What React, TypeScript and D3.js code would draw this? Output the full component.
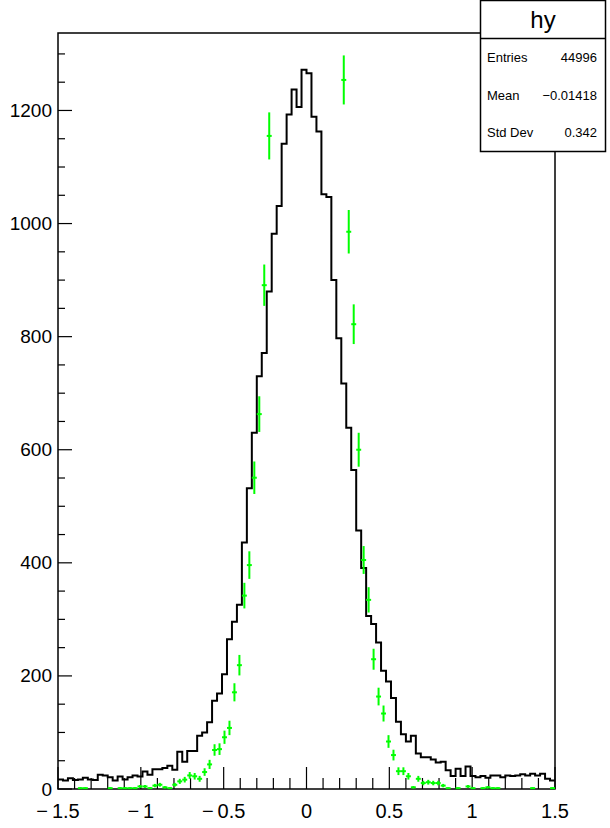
import React from "react";
import * as d3 from "d3";

// ---- data ----
const xMin = -1.5;
const xMax = 1.5;
const nBins = 100;
const yMaxAxis = 1337;

// black histogram "hy" bin contents (100 bins, -1.5..1.5)
const hyCounts = [
  17, 15, 19, 16, 17, 20, 17, 16, 25, 24,
  21, 15, 22, 17, 21, 24, 22, 31, 25, 35,
  35, 37, 41, 34, 66, 48, 67, 67, 94, 100,
  118, 156, 169, 203, 265, 296, 326, 436, 532, 630,
  730, 771, 880, 982, 1031, 1141, 1193, 1237, 1206, 1272,
  1266, 1189, 1163, 1052, 1047, 900, 797, 717, 639, 564,
  457, 391, 306, 292, 259, 209, 190, 161, 119, 97,
  84, 94, 63, 56, 56, 52, 47, 48, 33, 23,
  36, 23, 40, 23, 21, 23, 20, 24, 24, 21,
  24, 23, 24, 26, 24, 27, 24, 27, 18, 15,
];

// green histogram (drawn with error bars); null = off the top of the frame, 0 = empty
const greenCounts: (number | null)[] = [
  0, 0, 0, 0, 1.5, 1.5, 0, 0, 0, 0,
  1.5, 0, 1.5, 1.5, 1.5, 1.5, 4.5, 4.5, 1.5, 6,
  7.5, 3, 1.5, 7.5, 13.5, 16.5, 24, 22.5, 18, 30,
  43.5, 69, 70.5, 91.5, 108, 171, 219, 342, 396, 550.5,
  663, 891, 1155, null, null, null, null, null, null, null,
  null, null, null, null, null, null, null, 1254, 985.5, 822,
  600, 405, 334.5, 229.5, 163.5, 133.5, 84, 60, 31.5, 31.5,
  22.5, 3, 18, 10.5, 12, 10.5, 10.5, 6, 1.5, 0,
  1.5, 0, 4.5, 1.5, 0, 1.5, 3, 1.5, 1.5, 0,
  0, 0, 0, 0, 0, 1.5, 0, 0, 0, 1.5,
];
const greenWeight = 1.5;

const yTicks = [0, 200, 400, 600, 800, 1000, 1200];
const xTicks = [-1.5, -1, -0.5, 0, 0.5, 1, 1.5];

const statsTitle = "hy";
const statsLabels = ["Entries", "Mean", "Std Dev"];
const statsValues = ["44996", "\u22120.01418", "0.342"];

// ---- layout ----
const W = 610;
const H = 828;
const left = 58;
const right = 555;
const top = 33;
const bottom = 789;
const font = "'Liberation Sans', Arial, Helvetica, sans-serif";

const fmtX = (v: number) => (v < 0 ? "\u2212\u2009" + String(-v) : String(v));

export default function App() {
  const x = d3.scaleLinear().domain([xMin, xMax]).range([left, right]);
  const y = d3.scaleLinear().domain([0, yMaxAxis]).range([bottom, top]);
  const bw = (xMax - xMin) / nBins;
  const edge = (i: number) => x(xMin + i * bw);

  // histogram outline path
  let d = `M${edge(0)},${y(hyCounts[0])}`;
  hyCounts.forEach((v, i) => {
    if (i > 0) d += `V${y(v)}`;
    d += `H${edge(i + 1)}`;
  });

  const minorY = d3.range(0, yMaxAxis + 1, 50);
  const minorX = d3.range(-15, 16).map((k) => k / 10);

  return (
    <svg
      width={W}
      height={H}
      style={{ position: "absolute", left: 0, top: 0, background: "#fff" }}
      fontFamily={font}
    >
      <rect x={0} y={0} width={W} height={H} fill="#fff" />
      {/* frame */}
      <rect x={left} y={top} width={right - left} height={bottom - top} fill="none" stroke="#000" strokeWidth={1.5} />

      {/* y ticks */}
      {minorY.map((v) => (
        <line key={"my" + v} x1={left} x2={left + (v % 200 === 0 ? 14 : 7)} y1={y(v)} y2={y(v)} stroke="#000" strokeWidth={1.2} />
      ))}
      {yTicks.map((v) => (
        <text key={"yl" + v} x={52} y={y(v)} fontSize={19} textAnchor="end" dominantBaseline="central">
          {v}
        </text>
      ))}

      {/* x ticks */}
      {minorX.map((v) => {
        const major = Math.abs(Math.round(v * 10) % 5) === 0;
        return (
          <line key={"mx" + v} x1={x(v)} x2={x(v)} y1={bottom} y2={bottom - (major ? 22 : 11)} stroke="#000" strokeWidth={1.2} />
        );
      })}
      {xTicks.map((v) => (
        <text key={"xl" + v} x={x(v)} y={818} fontSize={20} textAnchor="middle">
          {fmtX(v)}
        </text>
      ))}

      {/* black histogram */}
      <path d={d} fill="none" stroke="#000" strokeWidth={2} />

      {/* green points with errors */}
      {greenCounts.map((v, i) => {
        if (v === null || v <= 0) return null;
        const e = Math.sqrt(v * greenWeight);
        const cx = (edge(i) + edge(i + 1)) / 2;
        return (
          <g key={"g" + i} stroke="#00ff00" strokeWidth={2}>
            <line x1={cx} x2={cx} y1={y(v - e)} y2={y(Math.min(v + e, yMaxAxis))} />
            <line x1={edge(i)} x2={edge(i + 1)} y1={y(v)} y2={y(v)} />
          </g>
        );
      })}

      {/* stats box */}
      <rect x={480.5} y={0.5} width={125} height={151} fill="#fff" stroke="#000" strokeWidth={1.5} />
      <line x1={480.5} x2={605.5} y1={38.5} y2={38.5} stroke="#000" strokeWidth={1.5} />
      <text x={543} y={28} fontSize={24} textAnchor="middle">
        {statsTitle}
      </text>
      {statsLabels.map((s, i) => (
        <g key={s}>
          <text x={487} y={62 + i * 37.5} fontSize={13}>
            {s}
          </text>
          <text x={597} y={62 + i * 37.5} fontSize={13} textAnchor="end">
            {statsValues[i]}
          </text>
        </g>
      ))}
    </svg>
  );
}
